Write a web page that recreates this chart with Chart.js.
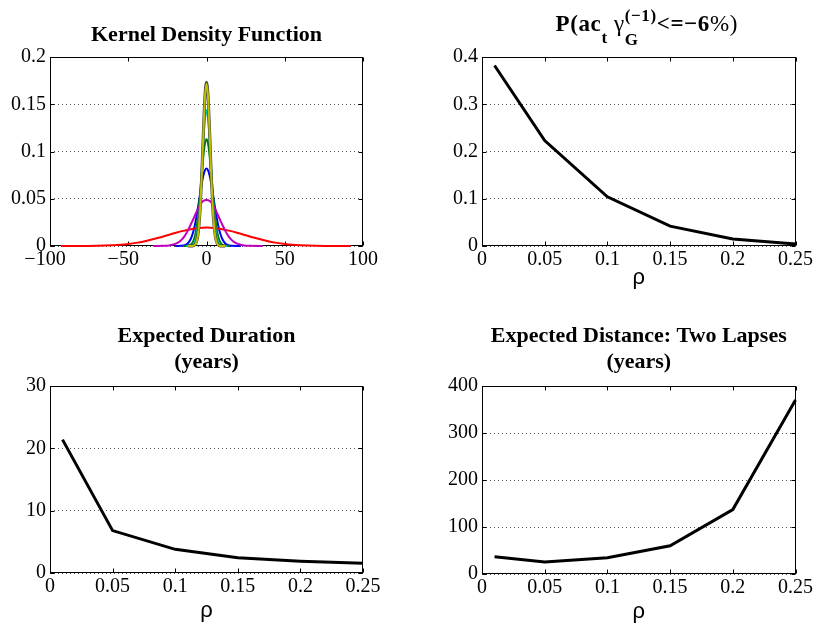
<!DOCTYPE html>
<html><head><meta charset="utf-8">
<script src="https://cdn.jsdelivr.net/npm/chart.js@4.4.1/dist/chart.umd.min.js"></script>
<style>
html,body{margin:0;padding:0;background:#fff;}
#wrap{position:relative;width:815px;height:623px;overflow:hidden;background:#fff;}
canvas{position:absolute;left:0;top:0;}
</style></head><body>
<div id="wrap">
<canvas id="c1" width="815" height="623"></canvas>
<canvas id="c2" width="815" height="623"></canvas>
<canvas id="c3" width="815" height="623"></canvas>
<canvas id="c4" width="815" height="623"></canvas>
</div>
<script>
// ---------- data ----------
const rhoValues   = [0.01, 0.05, 0.1, 0.15, 0.2, 0.25];
const probLapse   = [0.382, 0.223, 0.104, 0.042, 0.015, 0.004];
const expDuration = [21.4, 6.8, 3.8, 2.45, 1.9, 1.55];
const expDistance = [36.5, 25.5, 34.5, 60, 137, 370];

// kernel density curves
const redX = [-93,-80,-70,-60,-55,-50,-45,-40,-35,-30,-25,-20,-15,-10,-5,0,5,10,15,20,25,30,35,40,45,50,55,60,70,80,92];
const redY = [0,0.0001,0.0003,0.0009,0.0014,0.0022,0.0033,0.0048,0.0068,0.0090,0.0114,0.0138,0.0160,0.0178,0.0190,0.0195,0.0190,0.0178,0.0160,0.0138,0.0114,0.0090,0.0068,0.0048,0.0033,0.0022,0.0014,0.0009,0.0003,0.0001,0];
const magX = [-34,-28,-24,-20,-18,-16,-14,-12,-10,-8,-6,-4,-2,0,2,4,6,8,10,12,14,16,18,20,24,28,36];
const magY = [0,0.0002,0.0006,0.0022,0.0038,0.0065,0.0105,0.0160,0.0230,0.0300,0.0375,0.0440,0.0478,0.0487,0.0478,0.0440,0.0375,0.0300,0.0230,0.0160,0.0105,0.0065,0.0038,0.0022,0.0006,0.0002,0];
const bluX = [-20,-16,-14,-12,-10,-9,-8,-7,-6,-5,-4,-3,-2,-1,0,1,2,3,4,5,6,7,8,9,10,12,14,16,22];
const bluY = [0,0.0002,0.0008,0.0027,0.0077,0.0121,0.0181,0.0257,0.0350,0.0454,0.0562,0.0663,0.0746,0.0801,0.0820,0.0801,0.0746,0.0663,0.0562,0.0454,0.0350,0.0257,0.0181,0.0121,0.0077,0.0027,0.0008,0.0002,0];
const grnX = [-15,-12,-10,-9,-8,-7,-6,-5,-4,-3,-2,-1,0,1,2,3,4,5,6,7,8,9,10,12,15];
const grnY = [0,0.0002,0.0015,0.0034,0.0071,0.0136,0.0238,0.0383,0.0566,0.0766,0.0951,0.1083,0.1130,0.1083,0.0951,0.0766,0.0566,0.0383,0.0238,0.0136,0.0071,0.0034,0.0015,0.0002,0];
const cyaX = [-13,-10,-9,-8,-7,-6,-5,-4,-3,-2,-1,0,1,2,3,4,5,6,7,8,9,10,13];
const cyaY = [0,0.0002,0.0008,0.0024,0.0063,0.0145,0.0292,0.0519,0.0811,0.1116,0.1351,0.1440,0.1351,0.1116,0.0811,0.0519,0.0292,0.0145,0.0063,0.0024,0.0008,0.0002,0];
const yelX = [-12,-9,-8,-7,-6,-5,-4,-3,-2,-1,0,1,2,3,4,5,6,7,8,9,12];
const yelY = [0,0.0001,0.0005,0.0020,0.0066,0.0179,0.0404,0.0761,0.1198,0.1571,0.1720,0.1571,0.1198,0.0761,0.0404,0.0179,0.0066,0.0020,0.0005,0.0001,0];
const gryY = [0,0.0001,0.0006,0.0022,0.0069,0.0183,0.0409,0.0767,0.1205,0.1580,0.1730,0.1580,0.1205,0.0767,0.0409,0.0183,0.0069,0.0022,0.0006,0.0001,0];

// ticks
const kdeXTicks = [-100,-50,0,50,100];
const kdeXLabels = ['\u2212100\u2002','\u221250\u2002','0','50','100'];
const kdeYTicks = [0,0.05,0.1,0.15,0.2];
const kdeYLabels = ['0','0.05','0.1','0.15','0.2'];
const rhoTicks = [0,0.05,0.1,0.15,0.2,0.25];
const rhoLabels = ['0','0.05','0.1','0.15','0.2','0.25'];
const probTicks = [0,0.1,0.2,0.3,0.4];
const probLabels = ['0','0.1','0.2','0.3','0.4'];
const durTicks = [0,10,20,30];
const durLabels = ['0','10','20','30'];
const distTicks = [0,100,200,300,400];
const distLabels = ['0','100','200','300','400'];

// ---------- helpers ----------
const SERIF = '"Liberation Serif","Times New Roman",serif';
const SANS = '"Liberation Sans",Arial,sans-serif';
const tickFont = {family: SERIF, size: 20};
const pts = (xs, ys) => xs.map((x, i) => ({x: x, y: ys[i]}));

function scales(xt, xl, yt, yl, yAxisW, xAxisH) {
  return {
    x: {
      type: 'linear', min: xt[0], max: xt[xt.length - 1],
      afterBuildTicks: s => { s.ticks = xt.map(v => ({value: v})); },
      afterFit: s => { s.height = xAxisH; },
      grid: {display: false, drawTicks: false},
      border: {display: false},
      ticks: {autoSkip: false, maxRotation: 0, minRotation: 0, padding: 2, color: '#000', font: tickFont,
              callback: (v, i) => xl[i]}
    },
    y: {
      type: 'linear', min: yt[0], max: yt[yt.length - 1],
      afterBuildTicks: s => { s.ticks = yt.map(v => ({value: v})); },
      afterFit: s => { s.width = yAxisW; },
      grid: {display: true, drawTicks: false, color: '#555', lineWidth: 1},
      border: {display: false, dash: [1, 3]},
      ticks: {autoSkip: false, padding: 4, color: '#000', font: tickFont,
              callback: (v, i) => yl[i]}
    }
  };
}

const framePlugin = {
  id: 'frame',
  beforeDatasetsDraw(chart) {
    const ctx = chart.ctx, a = chart.chartArea;
    const L = Math.round(a.left) + 0.5, R = Math.round(a.right) - 0.5;
    const T = Math.round(a.top) + 0.5, B = Math.round(a.bottom) - 0.5;
    ctx.save();
    ctx.strokeStyle = '#000'; ctx.lineWidth = 1;
    ctx.strokeRect(L, T, R - L, B - T);
    const tl = 4;
    ctx.beginPath();
    chart.scales.x.ticks.forEach(t => {
      const px = Math.round(chart.scales.x.getPixelForValue(t.value)) + 0.5;
      ctx.moveTo(px, B); ctx.lineTo(px, B - tl);
      ctx.moveTo(px, T); ctx.lineTo(px, T + tl);
    });
    chart.scales.y.ticks.forEach(t => {
      const py = Math.round(chart.scales.y.getPixelForValue(t.value)) + 0.5;
      ctx.moveTo(L, py); ctx.lineTo(L + tl, py);
      ctx.moveTo(R, py); ctx.lineTo(R - tl, py);
    });
    ctx.stroke();
    ctx.restore();
  }
};

function textPlugin(fn) {
  return {id: 'txt', afterDraw(chart) { const ctx = chart.ctx; ctx.save(); ctx.fillStyle = '#000'; fn(ctx, chart.chartArea); ctx.restore(); }};
}
function rhoLabel(ctx, a, off) {
  ctx.font = '22px ' + SANS; ctx.textAlign = 'center'; ctx.textBaseline = 'alphabetic';
  ctx.fillText('\u03C1', (a.left + a.right) / 2, a.bottom + off);
}
function centered(ctx, a, lines, y0, dy) {
  ctx.font = 'bold 22px ' + SERIF; ctx.textAlign = 'center'; ctx.textBaseline = 'alphabetic';
  lines.forEach((l, i) => ctx.fillText(l, (a.left + a.right) / 2, y0 + i * dy));
}

function baseOptions(pad) {
  return {
    responsive: false, animation: false, devicePixelRatio: 1,
    layout: {padding: pad},
    plugins: {legend: {display: false}, tooltip: {enabled: false}, title: {display: false}},
    elements: {point: {radius: 0}}
  };
}

function padFor(L, T, R, B, yw, xh) {
  return {left: L - yw, top: T, right: 815 - R, bottom: 623 - B - xh};
}

// ---------- chart 1: kernel density ----------
(function () {
  const yw = 50, xh = 30;
  const o = baseOptions(padFor(50, 57, 363, 246, yw, xh));
  o.scales = scales(kdeXTicks, kdeXLabels, kdeYTicks, kdeYLabels, yw, xh);
  const ds = (xs, ys, c, w) => ({data: pts(xs, ys), borderColor: c, borderWidth: w, cubicInterpolationMode: 'monotone', fill: false, clip: 3});
  new Chart(document.getElementById('c1'), {
    type: 'line',
    data: {datasets: [
      ds(yelX, yelY, '#bfbf00', 2),
      ds(yelX, gryY, '#404040', 3),
      ds(magX, magY, '#bf00bf', 2),
      ds(cyaX, cyaY, '#00bfbf', 2),
      ds(redX, redY, '#ff0000', 2),
      ds(grnX, grnY, '#008000', 2),
      ds(bluX, bluY, '#0000ff', 2)
    ]},
    options: o,
    plugins: [framePlugin, textPlugin((ctx, a) => centered(ctx, a, ['Kernel Density Function'], 41, 0))]
  });
})();

// ---------- chart 2: probability ----------
(function () {
  const yw = 74, xh = 30;
  const o = baseOptions(padFor(482, 57, 797, 246, yw, xh));
  o.scales = scales(rhoTicks, rhoLabels, probTicks, probLabels, yw, xh);
  new Chart(document.getElementById('c2'), {
    type: 'line',
    data: {datasets: [{data: pts(rhoValues, probLapse), borderColor: '#000', borderWidth: 3, tension: 0, fill: false, clip: 3}]},
    options: o,
    plugins: [framePlugin, textPlugin((ctx, a) => {
      const big = 'bold 23px ' + SERIF, bigN = '23px ' + SERIF, small = 'bold 17px ' + SERIF;
      const sp = 0.6;
      ctx.textAlign = 'left'; ctx.textBaseline = 'alphabetic';
      const segs = [
        {t: 'P(ac', f: big, dy: 0},
        {t: 't', f: small, dy: 12},
        {t: ' ', f: big, dy: 0},
        {t: '\u03B3', f: bigN, dy: 0},
        {stack: true, sub: 'G', sup: '(\u22121)', f: small},
        {t: '<=\u22126', f: big, dy: 0},
        {t: '%)', f: bigN, dy: 0}
      ];
      const w = (s) => { let tot = 0; for (const ch of s) tot += ctx.measureText(ch).width + sp; return tot; };
      const draw = (s, x, y) => { for (const ch of s) { ctx.fillText(ch, x, y); x += ctx.measureText(ch).width + sp; } };
      let total = 0;
      segs.forEach(s => {
        ctx.font = s.f;
        s.w = s.stack ? Math.max(w(s.sub), w(s.sup)) : w(s.t);
        total += s.w;
      });
      let x = (a.left + a.right) / 2 - total / 2 + 8;
      const base = 31;
      segs.forEach(s => {
        ctx.font = s.f;
        if (s.stack) {
          draw(s.sub, x, base + 14);
          draw(s.sup, x, base - 10);
        } else {
          draw(s.t, x, base + s.dy);
        }
        x += s.w;
      });
      rhoLabel(ctx, a, 38);
    })]
  });
})();

// ---------- chart 3: expected duration ----------
(function () {
  const yw = 50, xh = 30;
  const o = baseOptions(padFor(50, 386, 363, 573, yw, xh));
  o.scales = scales(rhoTicks, rhoLabels, durTicks, durLabels, yw, xh);
  new Chart(document.getElementById('c3'), {
    type: 'line',
    data: {datasets: [{data: pts(rhoValues, expDuration), borderColor: '#000', borderWidth: 3, tension: 0, fill: false, clip: 3}]},
    options: o,
    plugins: [framePlugin, textPlugin((ctx, a) => { centered(ctx, a, ['Expected Duration', '(years)'], 342, 26); rhoLabel(ctx, a, 44); })]
  });
})();

// ---------- chart 4: expected distance ----------
(function () {
  const yw = 74, xh = 30;
  const o = baseOptions(padFor(482, 386, 797, 574, yw, xh));
  o.scales = scales(rhoTicks, rhoLabels, distTicks, distLabels, yw, xh);
  new Chart(document.getElementById('c4'), {
    type: 'line',
    data: {datasets: [{data: pts(rhoValues, expDistance), borderColor: '#000', borderWidth: 3, tension: 0, fill: false, clip: 3}]},
    options: o,
    plugins: [framePlugin, textPlugin((ctx, a) => { centered(ctx, a, ['Expected Distance: Two Lapses', '(years)'], 342, 26); rhoLabel(ctx, a, 44); })]
  });
})();
</script>
</body></html>
